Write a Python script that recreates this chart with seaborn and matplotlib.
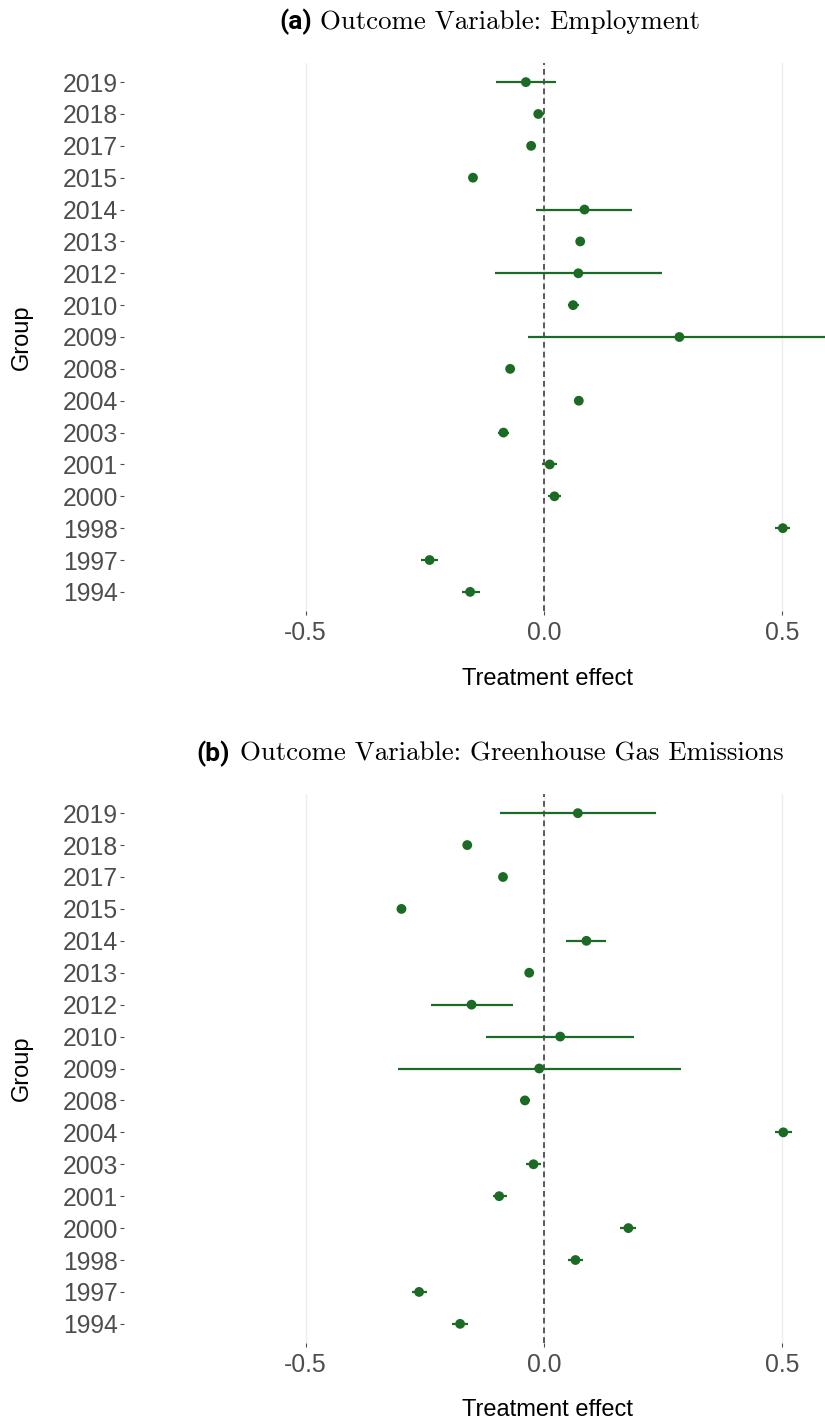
import matplotlib
matplotlib.use("Agg")
import matplotlib.pyplot as plt
import seaborn as sns
import pandas as pd

# ---------------- data ----------------
groups = ["1994", "1997", "1998", "2000", "2001", "2003", "2004", "2008", "2009",
          "2010", "2012", "2013", "2014", "2015", "2017", "2018", "2019"]

emp_est = [-0.155, -0.240, 0.501, 0.022, 0.012, -0.085, 0.073, -0.071, 0.284,
           0.061, 0.072, 0.076, 0.085, -0.149, -0.027, -0.012, -0.038]
emp_lo = [-0.173, -0.257, 0.485, 0.009, -0.004, -0.096, 0.068, -0.076, -0.034,
          0.050, -0.102, 0.071, -0.016, -0.154, -0.032, -0.020, -0.100]
emp_hi = [-0.135, -0.223, 0.517, 0.035, 0.027, -0.073, 0.078, -0.066, 0.620,
          0.073, 0.247, 0.081, 0.185, -0.144, -0.022, 0.000, 0.025]

ghg_est = [-0.176, -0.262, 0.066, 0.177, -0.094, -0.022, 0.502, -0.040, -0.010,
           0.034, -0.152, -0.031, 0.089, -0.299, -0.086, -0.161, 0.071]
ghg_lo = [-0.192, -0.277, 0.050, 0.160, -0.108, -0.037, 0.485, -0.051, -0.306,
          -0.121, -0.236, -0.036, 0.047, -0.304, -0.091, -0.166, -0.092]
ghg_hi = [-0.160, -0.245, 0.082, 0.193, -0.078, -0.006, 0.520, -0.029, 0.287,
          0.189, -0.066, -0.026, 0.131, -0.294, -0.081, -0.156, 0.234]

panel_tags = ["(a)", "(b)"]
panel_titles = ["Outcome Variable: Employment",
                "Outcome Variable: Greenhouse Gas Emissions"]
x_ticks = [-0.5, 0.0, 0.5]
x_tick_labels = ["-0.5", "0.0", "0.5"]
x_label = "Treatment effect"
y_label = "Group"

# ---------------- style ----------------
sns.set_theme(style="white")
plt.rcParams["font.family"] = ["Liberation Sans", "DejaVu Sans"]

W, H = 825, 1423
fig = plt.figure(figsize=(W / 100, H / 100), dpi=100)

green = "#1C6B25"
tick_col = "#4D4D4D"

panels = [
    dict(est=emp_est, lo=emp_lo, hi=emp_hi, top=63, bottom=611,
         title_y=22, tag_right=312, title_left=320, xlab_y=679, ylab_y=337),
    dict(est=ghg_est, lo=ghg_lo, hi=ghg_hi, top=794, bottom=1343,
         title_y=754, tag_right=230, title_left=240, xlab_y=1410, ylab_y=1068),
]

left_px, right_px = 124, 825
x0 = 0.0
scale = 476.7  # px per unit, used only to set limits
xlim = ((left_px - 544) / scale, (right_px - 544) / scale)

for i, p in enumerate(panels):
    ax = fig.add_axes([left_px / W, 1 - p["bottom"] / H,
                       (right_px - left_px) / W, (p["bottom"] - p["top"]) / H])
    df = pd.DataFrame({"group": groups, "est": p["est"],
                       "lo": p["lo"], "hi": p["hi"]})

    # vertical major gridlines
    for xt in x_ticks:
        ax.axvline(xt, color="#EDEDED", lw=1.0, zorder=0)

    ax.hlines(y=df["group"], xmin=df["lo"], xmax=df["hi"], color=green,
              lw=1.6, zorder=2)
    sns.scatterplot(data=df, x="est", y="group", color=green, s=50,
                    edgecolor="none", ax=ax, zorder=3, legend=False)
    ax.axvline(x0, color="#4D4D4D", lw=1.3, ls=(0, (3.2, 2.2)), zorder=4)

    ax.set_xlim(*xlim)
    ax.set_ylim(-0.6, len(groups) - 0.4)
    ax.set_xticks(x_ticks)
    ax.set_xticklabels(x_tick_labels)
    ax.tick_params(axis="both", colors=tick_col, labelcolor=tick_col,
                   labelsize=17.8, length=3, width=0.8, direction="out",
                   bottom=True, left=True, pad=1.5)
    ax.tick_params(axis="x", pad=4)
    for s in ax.spines.values():
        s.set_visible(False)
    ax.grid(False)
    ax.set_xlabel("")
    ax.set_ylabel("")

    fig.text(547 / W, 1 - p["xlab_y"] / H, x_label, ha="center", va="center",
             fontsize=17, color="black")
    fig.text(22 / W, 1 - p["ylab_y"] / H, y_label, ha="center", va="center",
             rotation=90, fontsize=17, color="black")

    fig.text(p["tag_right"] / W, 1 - p["title_y"] / H, panel_tags[i],
             ha="right", va="center", fontsize=19, fontweight="bold",
             family=["Roboto", "DejaVu Sans"], color="black")
    fig.text(p["title_left"] / W, 1 - p["title_y"] / H, panel_titles[i],
             ha="left", va="center", fontsize=19.3,
             family=["cmr10", "DejaVu Serif"], color="black")

fig.savefig("out.png", dpi=100)
